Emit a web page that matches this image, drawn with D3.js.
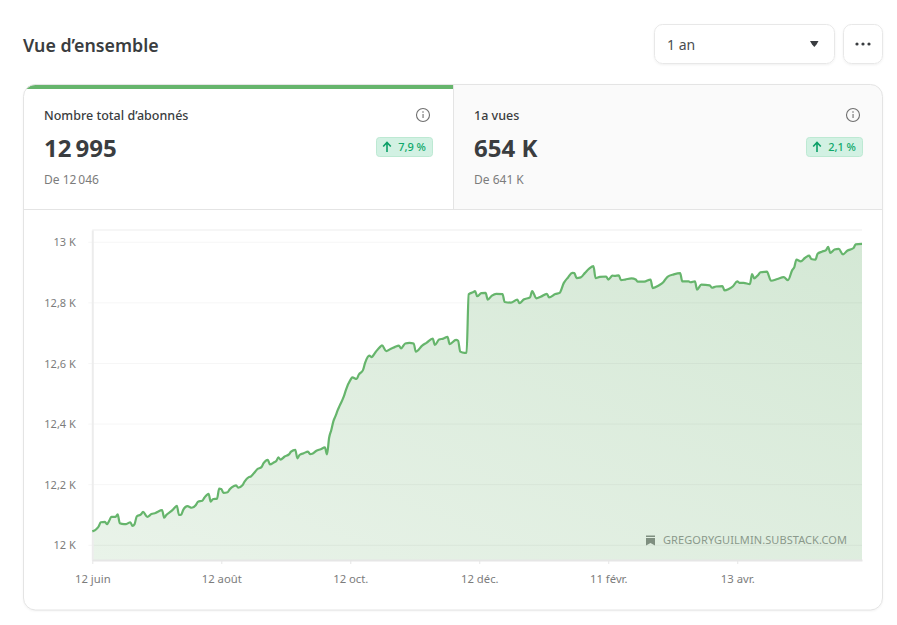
<!DOCTYPE html>
<html lang="fr">
<head>
<meta charset="utf-8">
<script src="https://cdn.jsdelivr.net/npm/d3@7"></script>
<style>
  html, body { margin: 0; background: #fff; }
  svg { display: block; font-family: "Noto Sans", sans-serif; }
  .tick text { font-family: "Noto Sans", sans-serif; }
</style>
</head>
<body>
<svg id="chart" width="897" height="625"></svg>
<script>
// days since 12 juin
const dayOffsets = [
  0,2,3,4,6,7,8,9,11,12,13,15,16,18,19,20,21,23,24,26,28,30,31,33,34,35,37,38,40,41,42,43,45,47,49,50,
  52,53,55,56,57,59,60,61,62,64,65,67,68,69,71,72,74,75,77,78,80,81,83,84,86,87,88,89,91,93,94,96,97,98,
  100,102,103,104,106,108,110,111,
  112,113,114,115,116,117,119,120,122,123,125,126,128,129,131,132,134,136,137,139,141,143,145,146,148,150,152,153,
  156,158,161,162,164,166,168,169,172,173,174,176,177,178,180,181,182,184,186,187,189,191,194,195,198,201,202,
  204,207,208,210,212,215,216,219,221,
  223,225,227,228,229,231,233,235,237,238,240,243,244,246,247,249,250,252,255,257,258,261,264,265,268,270,272,
  275,278,279,282,283,285,286,288,292,293,295,298,299,301,303,305,306,308,311,312,313,315,316,319,321,324,327,
  329,331,332,333,335,337,339,340,342,343,345,347,348,349,351,353,355,357,360,361,364
];
const subscribers = [
  12046,12054,12062,12076,12077,12070,12081,12094,12094,12102,12073,12070,12070,12076,12064,12070,12095,12102,12110,12094,12103,12107,12111,12116,12091,12100,12111,12117,12130,12100,12101,12117,12129,12124,12133,12144,
  12147,12157,12170,12144,12152,12154,12187,12186,12173,12175,12185,12196,12198,12190,12198,12210,12225,12227,12243,12251,12258,12271,12282,12267,12274,12278,12290,12283,12293,12300,12309,12315,12287,12298,
  12304,12309,12301,12302,12312,12317,12323,12300,
  12355,12380,12409,12426,12445,12461,12492,12514,12545,12554,12549,12563,12578,12602,12626,12621,12638,12654,12660,12641,12648,12654,12659,12650,12666,12668,12666,12639,
  12659,12668,12682,12661,12679,12682,12688,12664,12678,12675,12639,12635,12636,12828,12835,12839,12822,12832,12833,12811,12824,12830,12829,12803,12801,12811,12799,
  12811,12818,12839,12815,12820,12830,12818,12829,12833,
  12866,12884,12899,12898,12882,12884,12899,12913,12921,12882,12886,12887,12877,12890,12889,12891,12875,12877,12881,12877,12870,12870,12877,12849,12858,12868,12886,
  12894,12898,12871,12871,12868,12871,12844,12860,12858,12850,12854,12855,12841,12846,12855,12871,12866,12866,12862,12895,12881,12893,12901,12903,12873,12879,12885,
  12875,12908,12918,12943,12937,12948,12956,12945,12943,12962,12969,12974,12985,12965,12976,12978,12960,12972,12981,12993,12995
];
const xTickDays = [0, 61, 122, 183, 244, 305];
const xTickLabels = ["12 juin", "12 août", "12 oct.", "12 déc.", "11 févr.", "13 avr."];
const yTickValues = [12000, 12200, 12400, 12600, 12800, 13000];
const yTickLabels = ["12 K", "12,2 K", "12,4 K", "12,6 K", "12,8 K", "13 K"];
const points = dayOffsets.map((d, i) => ({ day: d, value: subscribers[i] }));

const svg = d3.select("#chart");
const textDark = "#3a3d40";
const textGray = "#7c7c7c";
const borderColor = "#e4e4e4";
const green = "#66b56c";

const defs = svg.append("defs");
const shadow = defs.append("filter").attr("id", "soft")
  .attr("x", "-5%").attr("y", "-20%").attr("width", "110%").attr("height", "140%");
shadow.append("feDropShadow").attr("dx", 0).attr("dy", 1).attr("stdDeviation", 1)
  .attr("flood-color", "#000").attr("flood-opacity", 0.06);

// header
svg.append("text").attr("x", 23).attr("y", 52)
  .attr("font-size", 17.8).attr("font-weight", 600).attr("fill", textDark)
  .text("Vue d’ensemble");

svg.append("rect").attr("x", 654.5).attr("y", 24.5).attr("width", 180).attr("height", 39).attr("rx", 8)
  .attr("fill", "#fff").attr("stroke", "#e8e8e8").attr("filter", "url(#soft)");
svg.append("text").attr("x", 667).attr("y", 50).attr("font-size", 14).attr("fill", "#4a4d50").text("1 an");
svg.append("path").attr("d", "M810,41 h8.5 l-2,3.5 l-2.2,2.5 l-2.2,-2.5 z").attr("fill", textDark);

svg.append("rect").attr("x", 843.5).attr("y", 24.5).attr("width", 39).attr("height", 39).attr("rx", 8)
  .attr("fill", "#fff").attr("stroke", "#e8e8e8").attr("filter", "url(#soft)");
svg.selectAll("circle.dot").data([857, 863, 869]).enter().append("circle")
  .attr("class", "dot").attr("cx", (d) => d).attr("cy", 44).attr("r", 1.6).attr("fill", textDark);

// card
const cardClip = defs.append("clipPath").attr("id", "card-clip");
cardClip.append("rect").attr("x", 23.5).attr("y", 84.5).attr("width", 859).attr("height", 525.5).attr("rx", 12);

svg.append("rect").attr("x", 23.5).attr("y", 84.5).attr("width", 859).attr("height", 525.5).attr("rx", 12)
  .attr("fill", "#fff").attr("filter", "url(#soft)");
const cardInner = svg.append("g").attr("clip-path", "url(#card-clip)");
cardInner.append("rect").attr("x", 453.5).attr("y", 84).attr("width", 430).attr("height", 125.5).attr("fill", "#fafafa");
cardInner.append("rect").attr("x", 23).attr("y", 84.5).attr("width", 430).attr("height", 4.5).attr("fill", green);
cardInner.append("line").attr("x1", 453.5).attr("x2", 453.5).attr("y1", 84).attr("y2", 209.5).attr("stroke", borderColor);
cardInner.append("line").attr("x1", 23).attr("x2", 883).attr("y1", 209.5).attr("y2", 209.5).attr("stroke", borderColor);
svg.append("rect").attr("x", 23.5).attr("y", 84.5).attr("width", 859).attr("height", 525.5).attr("rx", 12)
  .attr("fill", "none").attr("stroke", borderColor);

// the two stat tabs
function statTab(left, right, title, big, from, change) {
  const g = svg.append("g");
  g.append("text").attr("x", left).attr("y", 120).attr("font-size", 12.5).attr("font-weight", 500)
    .attr("fill", textDark).text(title);
  g.append("text").attr("x", left).attr("y", 157).attr("font-size", 24).attr("font-weight", 700)
    .attr("fill", textDark).text(big);
  g.append("text").attr("x", left).attr("y", 184).attr("font-size", 12).attr("fill", textGray).text(from);

  // info icon
  g.append("circle").attr("cx", right - 10).attr("cy", 115).attr("r", 6.5)
    .attr("fill", "none").attr("stroke", "#6f6f6f").attr("stroke-width", 1.1);
  g.append("rect").attr("x", right - 10.5).attr("y", 114).attr("width", 1.1).attr("height", 4).attr("fill", "#6f6f6f");
  g.append("circle").attr("cx", right - 10).attr("cy", 112).attr("r", 0.8).attr("fill", "#6f6f6f");

  // change badge
  const bw = 56;
  g.append("rect").attr("x", right - bw - 0.5).attr("y", 137.5).attr("width", bw).attr("height", 19).attr("rx", 3)
    .attr("fill", "#d2f1e3").attr("stroke", "#bde9d3");
  const ax = right - bw + 10;
  g.append("path").attr("d", `M${ax},152 V143 M${ax - 3.8},146.5 L${ax},142.5 L${ax + 3.8},146.5`)
    .attr("fill", "none").attr("stroke", "#0b9f67").attr("stroke-width", 1.6);
  g.append("text").attr("x", right - 7).attr("y", 151).attr("text-anchor", "end")
    .attr("font-size", 11).attr("font-weight", 500).attr("fill", "#0ea86a").text(change);
}
statTab(44, 433, "Nombre total d’abonnés", "12\u202F995", "De 12\u202F046", "7,9 %");
statTab(474, 863, "1a vues", "654 K", "De 641 K", "2,1 %");

// chart
const plot = { left: 92.3, right: 862, top: 230, bottom: 560 };
const x = d3.scaleLinear().domain([0, 364]).range([plot.left, plot.right]);
const y = d3.scaleLinear().domain([11951.5, 13040.5]).range([plot.bottom, plot.top]);

const grad = defs.append("linearGradient").attr("id", "area-fill")
  .attr("x1", 0).attr("y1", 1).attr("x2", 1).attr("y2", 0);
grad.append("stop").attr("offset", "0%").attr("stop-color", "#e9f3e9");
grad.append("stop").attr("offset", "100%").attr("stop-color", "#d4e8d5");

const curve = d3.curveMonotoneX;
const area = d3.area().x((d) => x(d.day)).y0(plot.bottom).y1((d) => y(d.value)).curve(curve);
const line = d3.line().x((d) => x(d.day)).y((d) => y(d.value)).curve(curve);

svg.append("line").attr("x1", plot.left).attr("x2", plot.right).attr("y1", plot.top).attr("y2", plot.top)
  .attr("stroke", "#f6f6f6").attr("stroke-width", 2);

svg.append("path").datum(points).attr("d", area).attr("fill", "url(#area-fill)");

// gridlines over the fill, as in the picture
svg.selectAll("line.grid").data(yTickValues).enter().append("line")
  .attr("class", "grid")
  .attr("x1", plot.left - 4).attr("x2", plot.right)
  .attr("y1", (d) => y(d)).attr("y2", (d) => y(d))
  .attr("stroke", "#000").attr("stroke-opacity", 0.04);

const yAxis = svg.append("g").attr("transform", `translate(${plot.left},0)`)
  .call(d3.axisLeft(y).tickValues(yTickValues).tickSize(0).tickPadding(16.5)
    .tickFormat((d, i) => yTickLabels[i]));
yAxis.select(".domain").attr("stroke", "#ececec").attr("stroke-width", 2);
yAxis.selectAll("text").attr("font-size", 11).attr("fill", textGray);

const xAxis = svg.append("g").attr("transform", `translate(0,${plot.bottom})`)
  .call(d3.axisBottom(x).tickValues(xTickDays).tickSizeInner(4).tickSizeOuter(0).tickPadding(11)
    .tickFormat((d, i) => xTickLabels[i]));
xAxis.select(".domain").attr("stroke", "#e6e6e6").attr("stroke-width", 2);
xAxis.selectAll("line").attr("stroke", "#e6e6e6");
xAxis.selectAll("text").attr("font-size", 11.3).attr("fill", textGray);

svg.append("path").datum(points).attr("d", line)
  .attr("fill", "none").attr("stroke", green).attr("stroke-width", 2.2).attr("stroke-linejoin", "round");

// watermark
svg.append("path").attr("d", "M646,535.5 h9 v1.5 h-9 z M646,538 h9 v7.5 l-4.5,-2.6 l-4.5,2.6 z").attr("fill", "#7f8f80");
svg.append("text").attr("x", 663).attr("y", 544).attr("font-size", 11).attr("letter-spacing", 0.08).attr("fill", "#8a998b")
  .text("GREGORYGUILMIN.SUBSTACK.COM");
</script>
</body>
</html>
